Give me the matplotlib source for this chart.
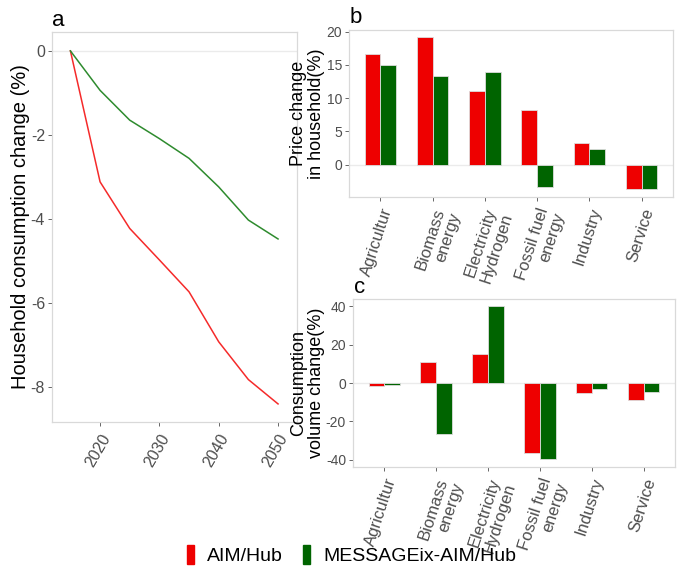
import matplotlib
matplotlib.use('Agg')
import matplotlib.pyplot as plt
from matplotlib.patches import Patch
import numpy as np

plt.rcParams['font.family'] = ['Liberation Sans', 'DejaVu Sans']

# Данные панели a
years = [2015, 2020, 2025, 2030, 2035, 2040, 2045, 2050]
aim_consumption = [0, -3.12, -4.23, -4.98, -5.74, -6.93, -7.83, -8.41]
msg_consumption = [0, -0.94, -1.65, -2.09, -2.56, -3.24, -4.03, -4.48]

# Данные панелей b и c
sectors = ['Agricultur', 'Biomass\nenergy', 'Electricity\nHydrogen',
           'Fossil fuel\nenergy', 'Industry', 'Service']
aim_price = [16.7, 19.25, 11.1, 8.2, 3.3, -3.7]
msg_price = [15.0, 13.4, 13.9, -3.3, 2.4, -3.7]
aim_volume = [-1.4, 11.0, 15.1, -36.5, -5.2, -8.7]
msg_volume = [-1.2, -26.4, 40.0, -39.7, -3.1, -4.7]

series_names = ['AIM/Hub', 'MESSAGEix-AIM/Hub']
bar_red = '#ee0000'
bar_green = '#006400'
line_red = '#f52a2a'
line_green = '#2e8b2e'
frame_col = '#d9d9d9'
tick_col = '#4d4d4d'

fig = plt.figure(figsize=(6.8, 5.83), dpi=100)
ax_a = fig.add_axes([0.0765, 0.2762, 0.3603, 0.6689])
ax_b = fig.add_axes([0.5132, 0.6621, 0.4765, 0.2864])
ax_c = fig.add_axes([0.5191, 0.1990, 0.4735, 0.2881])


def style_axes(ax, xsize, ysize):
    for sp in ax.spines.values():
        sp.set_color(frame_col)
        sp.set_linewidth(0.9)
    ax.axhline(0, color='#ebebeb', linewidth=1.0, zorder=0)
    ax.tick_params(colors=tick_col, labelcolor=tick_col,
                   length=3, width=0.6)
    ax.tick_params(axis='x', labelsize=xsize)
    ax.tick_params(axis='y', labelsize=ysize, pad=2)


# Панель a: линии
ax_a.plot(years, aim_consumption, color=line_red, linewidth=1.1)
ax_a.plot(years, msg_consumption, color=line_green, linewidth=1.1)
ax_a.set_xlim(2011.9, 2053.2)
ax_a.set_ylim(-8.84, 0.45)
ax_a.set_xticks([2020, 2030, 2040, 2050])
ax_a.set_yticks([0, -2, -4, -6, -8])
ax_a.set_yticklabels(['0', '-2', '-4', '-6', '-8'])
style_axes(ax_a, 11.5, 11.5)
plt.setp(ax_a.get_xticklabels(), rotation=60, ha='right', va='top',
         rotation_mode='anchor')
ax_a.set_ylabel('Household consumption change (%)', fontsize=14.5)
ax_a.yaxis.set_label_coords(-0.088, 0.5)
fig.text(0.0765, 0.955, 'a', fontsize=16)

# Панели b и c: столбцы
x = np.arange(1, len(sectors) + 1)
w = 0.3
for ax, aim_vals, msg_vals in [(ax_b, aim_price, msg_price),
                               (ax_c, aim_volume, msg_volume)]:
    ax.bar(x - w / 2, aim_vals, w, color=bar_red, edgecolor='#dddddd',
           linewidth=0.6, zorder=2)
    ax.bar(x + w / 2, msg_vals, w, color=bar_green, edgecolor='#dddddd',
           linewidth=0.6, zorder=2)
    ax.set_xlim(0.4, 6.6)
    ax.set_xticks(x)
    ax.set_xticklabels(sectors)
    style_axes(ax, 12, 10)
    plt.setp(ax.get_xticklabels(), rotation=72, ha='right', va='top',
             rotation_mode='anchor', linespacing=1.15)

ax_b.set_ylim(-4.87, 20.25)
ax_b.set_yticks([0, 5, 10, 15, 20])
ax_b.set_ylabel('Price change\nin household(%)', fontsize=13,
                linespacing=1.05)
ax_b.yaxis.set_label_coords(-0.074, 0.5)
fig.text(0.5147, 0.961, 'b', fontsize=16)

ax_c.set_ylim(-43.8, 43.8)
ax_c.set_yticks([-40, -20, 0, 20, 40])
ax_c.set_yticklabels(['-40', '-20', '0', '20', '40'])
ax_c.set_ylabel('Consumption\nvolume change(%)', fontsize=13,
                linespacing=1.05)
ax_c.yaxis.set_label_coords(-0.088, 0.5)
fig.text(0.521, 0.497, 'c', fontsize=16)

# Общая легенда
handles = [Patch(color=bar_red), Patch(color=bar_green)]
fig.legend(handles, series_names, loc='center', bbox_to_anchor=(0.517, 0.048),
           ncol=2, frameon=False, fontsize=14, handlelength=0.35,
           handleheight=1.1, handletextpad=0.7, columnspacing=1.0)

plt.savefig('out.png', dpi=100)
plt.close()
